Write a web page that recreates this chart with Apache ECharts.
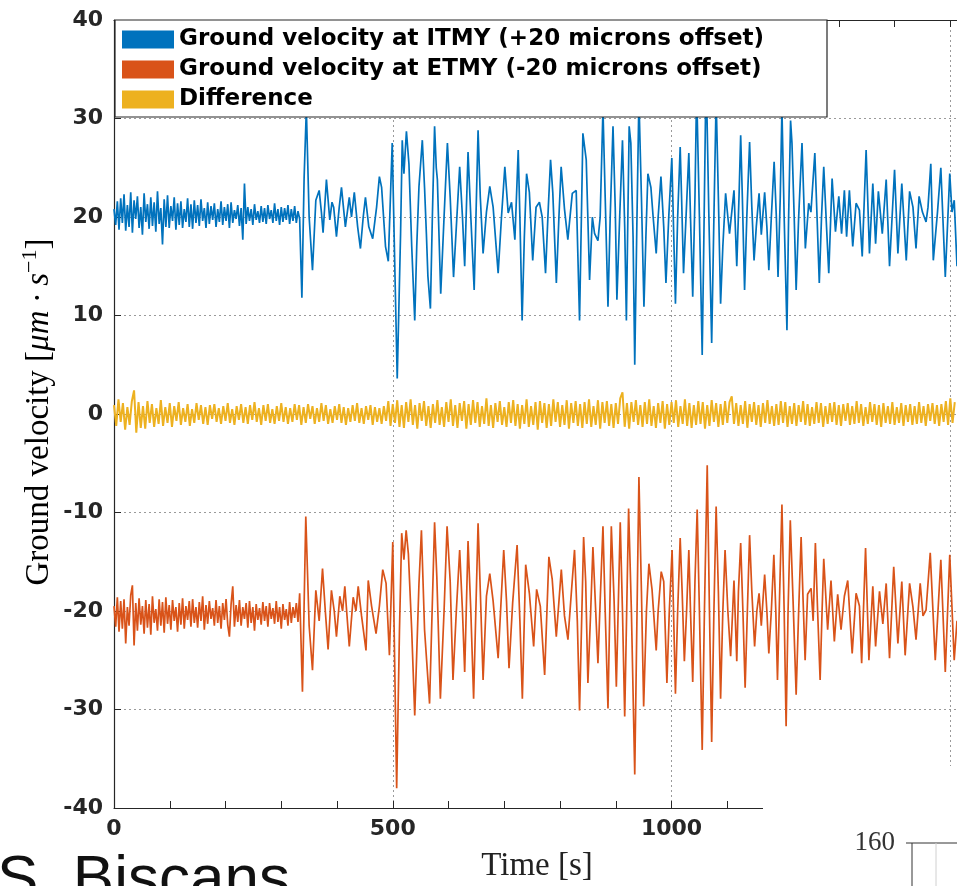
<!DOCTYPE html>
<html>
<head>
<meta charset="utf-8">
<script src="https://cdn.jsdelivr.net/npm/echarts@6/dist/echarts.min.js"></script>
<style>
  html, body { margin: 0; padding: 0; background: #fff; }
  #chart { width: 957px; height: 886px; }
</style>
</head>
<body>
<div id="chart"></div>
<script>
// quiet part before the quake, one sample every 3 s from t = 0
const QUIET_STEP = 3
const itmyQuiet = [
  20.8, 19.2, 21.6, 18.7, 21.9, 19.4, 22.3, 18.6, 21.2, 19.0,
  22.5, 18.4, 21.7, 19.8, 22.1, 18.9, 21.0, 18.2, 22.4, 19.5,
  21.3, 18.8, 22.0, 19.1, 21.5, 18.5, 22.6, 19.3, 20.9, 17.2,
  21.8, 19.0, 22.2, 18.9, 21.1, 19.6, 22.0, 18.7, 21.4, 19.2,
  21.6, 18.9, 20.8, 19.5, 21.9, 19.0, 21.3, 18.8, 21.7, 19.4,
  21.2, 19.1, 21.8, 19.6, 20.9, 18.9, 21.5, 19.3, 21.1, 19.7,
  21.4, 19.0, 20.8, 19.5, 21.6, 19.2, 21.0, 19.6, 21.3, 18.9,
  21.5, 19.4, 20.7, 19.8, 21.2, 19.1, 20.9, 17.7, 23.4, 19.3,
  21.0, 19.6, 20.8, 19.2, 21.3, 19.7, 20.6, 19.4, 21.1, 19.5,
  20.9, 19.3, 21.2, 19.8, 20.7, 19.4, 21.4, 19.6, 20.8, 19.2,
  21.0, 19.5, 20.9, 19.7, 21.2, 19.3, 20.8, 19.6, 21.1, 19.4,
  20.6, 19.8
]
const etmyQuiet = [
  -19.5, -21.6, -18.6, -22.1, -19.0, -21.8, -18.8, -23.3, -19.6, -21.5,
  -18.4, -17.4, -23.5, -19.2, -22.0, -18.7, -21.4, -19.5, -22.3, -18.9,
  -21.7, -19.3, -22.4, -18.5, -21.2, -19.8, -22.0, -18.8, -21.5, -19.1,
  -22.2, -18.6, -21.3, -19.4, -21.9, -18.9, -21.0, -19.6, -22.1, -19.2,
  -21.4, -18.7, -21.8, -19.5, -20.9, -19.0, -21.6, -18.8, -21.2, -19.6,
  -21.7, -19.1, -21.0, -18.5, -21.9, -19.4, -21.3, -19.0, -20.8, -19.7,
  -21.5, -18.9, -21.2, -19.5, -21.8, -19.2, -20.9, -18.8, -21.4, -22.6,
  -19.3, -17.5, -21.6, -19.4, -21.1, -18.9, -21.5, -19.6, -20.8, -19.2,
  -21.7, -19.0, -21.2, -19.6, -22.0, -19.3, -20.9, -19.7, -21.4, -19.1,
  -21.0, -19.5, -21.6, -19.2, -20.8, -19.7, -21.3, -19.0, -21.1, -19.6,
  -21.8, -19.3, -20.9, -19.8, -21.5, -19.1, -21.2, -19.6, -20.7, -19.2,
  -21.1, -18.2
]

// quake part, [time s, velocity] read at the peaks and troughs
const itmyQuake = [
  [337, 11.8], [341, 24], [345, 31], [350, 20], [356, 14.6], [362, 21.7], [368, 22.7], [372, 20.5],
  [375, 18.4], [381, 23.8], [387, 19.7], [391, 21.5], [394, 21], [399, 18], [404, 21], [408, 23],
  [415, 19], [422, 22], [426, 20], [431, 22.5], [437, 19], [442, 16.8], [447, 20], [451, 22],
  [457, 19], [464, 17.8], [471, 21], [476, 24.1], [480, 23], [483, 23.1], [487, 17], [492, 15.5],
  [499, 27.5], [504, 14], [508, 3.6], [514, 18.3], [517, 27.8], [520, 24.4], [524.5, 28.7], [529, 25.4],
  [534, 17], [539.4, 9.5], [543, 17], [547, 23.1], [553, 27.8], [557, 23], [560.3, 18.3], [563, 14],
  [567.5, 10.7], [571, 20], [575, 29.2], [578, 25], [580, 23.8], [586, 12.2], [592, 20], [598, 27.5],
  [603, 22], [609, 13.9], [614, 19], [620, 25.1], [625, 20], [629, 15], [635, 26.6], [640, 20],
  [646, 12.6], [653, 28.8], [657, 22], [662, 16.3], [668, 20.5], [674, 23.1], [680, 21], [689, 14.3],
  [695, 20], [701, 25.1], [707, 20.4], [713, 21.5], [719, 17.7], [725, 26.8], [728, 20], [732, 9.5],
  [736, 18], [740, 24.4], [745, 22.5], [751, 15.6], [757, 21], [763, 21.5], [768, 20.0], [774, 14.3],
  [779, 21], [783, 25.8], [787, 22.5], [793.4, 13.3], [798, 20], [802, 25.1], [808, 20.8], [814, 17.7],
  [822, 22.4], [829, 22.7], [835, 9.5], [841, 28.5], [847, 25.8], [853, 13.6], [858, 20], [862, 18.3],
  [868, 17.6], [872, 20], [877, 31], [881, 22], [886, 10.9], [890, 20], [895, 29.2], [899, 21],
  [902, 11.6], [907, 20], [912, 27.8], [916, 19], [919, 9.5], [924, 29.2], [927, 27.5], [931, 18],
  [934, 5.0], [938, 20], [941.5, 32], [946, 22], [950.5, 10.9], [954, 18], [957.6, 24.4], [963, 23],
  [967, 20], [972.5, 16.3], [976, 20], [981, 24.1], [986, 19], [990, 13.3], [995, 20], [1000.5, 26],
  [1004, 18], [1007, 11.2], [1011, 20], [1015.5, 27.1], [1018, 22], [1021.5, 14.3], [1026, 20], [1031, 26.5],
  [1034, 20], [1038, 11.9], [1042, 22], [1045, 33], [1050, 20], [1055, 6.0], [1058, 18], [1062, 35],
  [1067, 20], [1072, 7.2], [1076, 20], [1080, 32], [1084, 22], [1088, 11.2], [1092, 17], [1097, 22.4],
  [1101, 20], [1104, 18.3], [1108, 20.5], [1112, 22.7], [1117, 15.0], [1121, 22], [1124, 28.3], [1127, 22],
  [1131, 12.6], [1135, 20], [1140, 27.6], [1144, 21], [1148, 15.6], [1152, 19], [1157, 22.4], [1161, 18.2],
  [1167, 22.5], [1171, 19], [1174.5, 14.6], [1179, 20], [1184, 25.6], [1188, 20], [1191, 13.9], [1195, 22],
  [1198, 31], [1202, 20], [1207, 8.5], [1210, 20], [1213.5, 29.8], [1216, 27.5], [1220, 20], [1223.5, 12.6],
  [1228, 20], [1234, 27.5], [1240, 16.8], [1246, 21.4], [1250, 20.5], [1257, 26.5], [1261, 20], [1265, 13.3],
  [1269, 20], [1273, 25.1], [1278, 19], [1282, 14.3], [1288, 23.9], [1294, 18.5], [1300, 22.1], [1305, 18.3],
  [1310, 22.7], [1314, 18], [1319, 22.7], [1325, 17], [1331, 21.4], [1337, 20.7], [1342, 16], [1349, 26.8],
  [1355, 16.3], [1361, 23.4], [1366, 17.3], [1371, 22.6], [1378, 18.3], [1385, 23.8], [1391, 15], [1400, 24.8],
  [1406, 16.3], [1413, 23.4], [1421, 15.6], [1427, 22.6], [1433, 21], [1438.5, 16.8], [1444, 22.1], [1450, 20.5],
  [1456.5, 19.5], [1460, 21], [1465, 25.4], [1469.5, 15.6], [1477, 20.5], [1483, 25], [1491, 13.9], [1499, 24.4],
  [1503, 20.5], [1507, 21.7], [1512, 15]
]
const etmyQuake = [
  [338, -28.2], [344, -10.4], [350, -21.5], [356, -26], [362, -17.9], [368, -21], [374, -15.7], [379, -20],
  [384, -23.9], [390, -17.9], [395, -20], [399, -22.6], [405, -18.5], [410, -20], [414, -17.5], [422, -23.6],
  [429, -18.6], [434, -20], [438, -17.5], [444, -20.5], [452, -24], [456, -16.9], [462, -19.5], [470, -22.3],
  [476, -19.5], [482, -15.8], [488, -17.2], [494, -24.5], [500, -13], [507, -38], [512, -22], [516, -12.1],
  [520, -14.8], [524, -11.8], [528, -14.2], [534, -22], [539.4, -30.6], [547, -17.2], [551.4, -11.8], [557, -21.9],
  [566, -29.4], [575, -11], [579, -16.5], [585.4, -28.9], [592, -20], [597.4, -11.4], [603, -17], [608, -27],
  [614, -20], [620, -13.8], [625, -20], [629, -26.2], [635, -12.9], [640, -20], [645, -28.9], [653, -11.1],
  [657, -18], [662, -27], [668, -18.5], [674, -16.2], [680, -19], [689, -24.8], [699, -13.8], [704, -19],
  [708.5, -25.8], [715, -19.2], [723, -13.3], [728, -21], [732.4, -28.9], [738.4, -15.3], [745, -18.2], [752.7, -23.6],
  [758, -17.8], [764.6, -19.5], [772.4, -26.5], [780, -14.5], [786, -16.8], [793.3, -22.6], [802.3, -15.8], [808, -20.5],
  [814.2, -22.9], [820.2, -18.2], [826, -13.8], [831, -21], [835, -30.1], [842.3, -12.5], [846, -17], [850, -27.3],
  [855, -20], [859, -13.5], [864, -20], [868, -25.3], [872, -19], [877, -11.4], [881, -20], [886, -29.9],
  [892, -11.4], [897, -19], [901, -27.7], [908, -11], [912, -20], [916, -30.7], [923, -9.6], [928, -20],
  [934, -36.6], [941.5, -6.4], [946, -18], [950, -29.7], [955, -20], [959.4, -15.2], [965, -17.8], [972.5, -24],
  [976, -20], [981.5, -16], [986, -17], [991.7, -27.3], [996, -20], [1001, -13.8], [1007, -28.4], [1011, -20],
  [1015.5, -12.6], [1019, -18], [1023, -25.1], [1027, -20], [1031, -13.8], [1034, -20], [1038, -27.2], [1042, -17],
  [1046, -9.7], [1050, -20], [1055, -34.1], [1059, -20], [1064, -5.2], [1068, -20], [1072, -33.3], [1076, -20],
  [1080, -9.4], [1084, -18], [1088, -28.9], [1092, -20], [1096, -13.8], [1101, -20], [1106, -24.6], [1112, -16.9],
  [1117, -25.1], [1120, -18], [1124, -13.1], [1128, -20], [1132, -27.8], [1136, -20], [1140, -12.3], [1144, -18],
  [1149, -23.6], [1153, -20], [1157, -18.2], [1161, -21.5], [1167, -16.3], [1171, -20], [1174.5, -24.3], [1179, -20],
  [1183.5, -14.3], [1187, -20], [1190, -27], [1194, -18], [1198, -9.2], [1202, -20], [1205.5, -31.7], [1209, -20],
  [1213, -10.8], [1218, -19], [1223.5, -28.5], [1228, -20], [1232.4, -12.5], [1236, -19], [1239.6, -25], [1244, -18.3],
  [1250.3, -17.7], [1254, -21], [1258, -13.1], [1262, -20], [1266.5, -27], [1270, -20], [1273, -14.7], [1280, -21.9],
  [1286, -16.9], [1292, -23.1], [1298, -18.3], [1304, -21.9], [1310, -18.5], [1316, -16.9], [1324, -24.3], [1331, -18.2],
  [1337, -19.5], [1341, -25.3], [1348, -13.6], [1354, -25], [1361, -17.5], [1366, -23.6], [1373, -18], [1379, -21.3],
  [1385, -17.2], [1391, -24.8], [1398.5, -15.5], [1406, -23.3], [1413, -17], [1419, -24.5], [1427, -17.2], [1433, -19.6],
  [1438.5, -22.9], [1446, -17.2], [1451, -20.5], [1456.5, -19.9], [1464, -14.1], [1473, -25], [1483, -14.8], [1491, -26.2],
  [1499, -14.3], [1507, -25], [1512, -21]
]

// difference trace, one sample every 4 s from t = 0
const DIFF_STEP = 4
const diffValues = [
  0.9, -1.2, 1.5, -0.8, 1.1, -1.6, 0.7, -1.1, 1.3, 2.4,
  -1.9, 1.2, -1.4, 0.8, -1.5, 1.3, -0.9, 1.0, -1.3, 0.6,
  -1.0, 1.4, -1.2, 0.7, -0.9, 1.1, -1.3, 0.8, -0.7, 1.2,
  -1.1, 0.6, -0.8, 1.0, -1.2, 0.5, -0.9, 1.1, -0.6, 0.9,
  -1.0, 0.7, -1.1, 0.9, -0.5, 1.0, -0.8, 0.6, -1.0, 0.8,
  -0.7, 1.1, -0.9, 0.5, -1.1, 0.8, -0.6, 1.0, -0.9, 0.7,
  -1.0, 0.9, -0.6, 1.2, -0.8, 0.6, -1.1, 0.9, -0.7, 1.0,
  -0.9, 0.5, -1.0, 0.8, -0.7, 1.1, -0.8, 0.7, -1.0, 0.6,
  -0.8, 1.0, -0.6, 0.9, -1.1, 0.7, -0.9, 1.0, -0.5, 0.8,
  -1.0, 0.6, -0.8, 1.1, -0.7, 0.9, -1.0, 0.5, -0.9, 0.8,
  -0.6, 1.0, -0.9, 0.7, -1.1, 0.6, -0.8, 0.9, -0.7, 1.1,
  -0.9, 0.6, -1.0, 0.8, -0.6, 0.9, -1.1, 0.7, -0.8, 0.6,
  -1.0, 0.8, -0.7, 1.3, -1.2, 1.0, -0.9, 1.4, -1.3, 0.9,
  -1.4, 1.2, -0.8, 1.5, -1.1, 0.9, -1.5, 1.1, -0.7, 1.3,
  -1.2, 0.8, -1.4, 1.0, -0.9, 1.4, -1.1, 0.7, -1.3, 1.2,
  -0.8, 1.5, -1.2, 0.9, -1.4, 1.1, -0.7, 1.3, -1.5, 1.0,
  -1.1, 1.4, -0.9, 1.2, -1.3, 0.8, -1.0, 1.6, -1.2, 0.9,
  -1.4, 1.1, -0.8, 1.3, -1.1, 0.7, -1.3, 1.2, -0.9, 1.4,
  -1.2, 1.0, -1.5, 0.9, -1.0, 1.5, -1.3, 0.8, -1.1, 1.2,
  -1.6, 1.3, -0.9, 1.1, -1.4, 1.0, -1.2, 1.5, -0.8, 1.2,
  -1.3, 0.9, -1.1, 1.4, -1.5, 1.1, -0.9, 1.3, -1.2, 1.0,
  -1.4, 1.2, -1.0, 1.5, -1.3, 0.8, -1.1, 1.4, -1.5, 1.2,
  -0.9, 1.3, -1.2, 1.0, -1.4, 1.1, -1.0, 1.6, 2.2, -1.3,
  1.1, -1.5, 1.2, -0.8, 1.4, -1.1, 0.9, -1.3, 1.2, -1.0,
  1.5, -1.2, 0.8, -1.4, 1.1, -0.9, 1.3, -1.5, 1.0, -1.1,
  1.2, -0.9, 1.4, -1.3, 0.8, -1.0, 1.5, -1.2, 1.1, -1.4,
  0.9, -1.1, 1.3, -1.0, 1.2, -1.5, 0.9, -1.2, 1.4, -0.8,
  1.1, -1.3, 1.0, -1.1, 1.3, -0.9, 1.2, 1.8, -1.0, 1.1,
  -1.2, 0.9, -1.0, 1.3, -1.4, 1.0, -0.8, 1.2, -1.1, 0.9,
  -1.3, 1.1, -0.9, 1.4, -1.0, 0.8, -1.2, 1.0, -1.1, 1.3,
  -0.9, 1.2, -1.3, 0.8, -1.0, 1.1, -1.2, 0.9, -0.8, 1.3,
  -1.1, 1.0, -1.2, 0.7, -1.0, 1.2, -0.9, 1.1, -1.3, 0.8,
  -1.0, 1.1, -0.8, 1.2, -1.1, 0.9, -1.2, 1.0, -0.7, 1.1,
  -1.1, 0.8, -1.0, 1.3, -0.9, 1.0, -1.2, 0.7, -1.0, 1.2,
  -0.8, 1.0, -1.1, 0.9, -1.3, 1.1, -0.9, 0.8, -1.0, 1.2,
  -1.1, 0.7, -0.9, 1.1, -1.2, 0.9, -0.8, 1.0, -1.1, 0.8,
  -1.0, 1.2, -0.9, 0.8, -1.2, 1.0, -0.7, 1.1, -1.0, 0.9,
  -1.2, 1.0, -0.8, 1.3, -1.1, 1.6, -0.9, 1.2
]

const seriesNames = [
  'Ground velocity at ITMY (+20 microns offset)',
  'Ground velocity at ETMY (-20 microns offset)',
  'Difference'
]
// 1500 sits under the neighbouring panel, so only these labels show
const xLabels = [0, 500, 1000]
const yTicks = [-40, -30, -20, -10, 0, 10, 20, 30, 40]
// the visible part of the time axis ends at the right edge of the picture
const X_MAX = 1512

const itmyData = itmyQuiet.map((v, i) => [i * QUIET_STEP, v]).concat(itmyQuake)
const etmyData = etmyQuiet.map((v, i) => [i * QUIET_STEP, v]).concat(etmyQuake)
const diffData = diffValues.map((v, i) => [i * DIFF_STEP, v])

const axisColor = '#262626'
const gridLine = { show: true, lineStyle: { color: '#9a9a9a', type: [2, 3], width: 1 } }
const serif = 'Liberation Serif'

const chart = echarts.init(document.getElementById('chart'))

const line = (name, data, color, width) => ({
  name,
  type: 'line',
  data,
  xAxisIndex: 0,
  showSymbol: false,
  symbol: 'none',
  sampling: 'none',
  lineStyle: { color, width },
  itemStyle: { color },
  emphasis: { disabled: true }
})

chart.setOption({
  animation: false,
  grid: { left: 114, top: 20, right: 0, height: 788, outerBoundsMode: 'none', containLabel: false },
  legend: {
    orient: 'vertical',
    left: 115,
    top: 20,
    z: 20,
    padding: [8, 10, 8, 7],
    itemWidth: 52,
    itemHeight: 18,
    itemGap: 7,
    icon: 'rect',
    data: seriesNames,
    textStyle: { fontFamily: 'DejaVu Sans', fontWeight: 'bold', fontSize: 23, color: '#000' }
  },
  xAxis: [
    {
      type: 'value', min: 0, max: X_MAX, interval: 100, position: 'bottom',
      axisLine: { show: true, onZero: false, lineStyle: { color: axisColor, width: 1.2 } },
      axisTick: { show: true, inside: true, length: 7, lineStyle: { color: axisColor } },
      axisLabel: {
        margin: 10,
        showMaxLabel: false,
        formatter: v => (xLabels.includes(v) ? String(v) : ''),
        fontFamily: 'DejaVu Sans', fontWeight: 'bold', fontSize: 22, color: axisColor
      },
      splitLine: { show: false }
    },
    {
      type: 'value', min: 0, max: X_MAX, interval: 100, position: 'top',
      axisLine: { show: true, onZero: false, lineStyle: { color: axisColor, width: 1.2 } },
      axisTick: { show: true, inside: true, length: 7, lineStyle: { color: axisColor } },
      axisLabel: { show: false },
      splitLine: { show: false }
    },
    {
      type: 'value', min: 0, max: X_MAX, interval: 500, position: 'bottom',
      axisLine: { show: false },
      axisTick: { show: false },
      axisLabel: { show: false },
      splitLine: gridLine
    }
  ],
  yAxis: {
    type: 'value', min: yTicks[0], max: yTicks[yTicks.length - 1], interval: 10,
    axisLine: { show: true, onZero: false, lineStyle: { color: axisColor, width: 1.2 } },
    axisTick: { show: true, inside: true, length: 7, lineStyle: { color: axisColor } },
    axisLabel: { margin: 11, fontFamily: 'DejaVu Sans', fontWeight: 'bold', fontSize: 22, color: axisColor },
    splitLine: gridLine
  },
  graphic: [
    // legend box
    {
      type: 'rect', z: 15, shape: { x: 115, y: 20, width: 712, height: 97 },
      style: { fill: '#fff', stroke: axisColor, lineWidth: 1.2 }
    },
    // y axis title
    {
      type: 'text', z: 15, x: 36, y: 412, rotation: Math.PI / 2,
      style: {
        text: '{n|Ground velocity [}{i|μm · s}{s|−1}{n|]}',
        align: 'center', verticalAlign: 'middle',
        rich: {
          n: { fontFamily: serif, fontSize: 33, color: '#222', lineHeight: 40, verticalAlign: 'bottom' },
          i: { fontFamily: serif, fontStyle: 'italic', fontSize: 33, color: '#222', lineHeight: 40, verticalAlign: 'bottom' },
          s: { fontFamily: serif, fontSize: 22, color: '#222', lineHeight: 40, verticalAlign: 'bottom', padding: [0, 0, 15, 0] }
        }
      }
    },
    // x axis title
    {
      type: 'text', z: 15, x: 537, y: 866,
      style: { text: 'Time [s]', fontFamily: serif, fontSize: 33, fill: '#222', align: 'center', verticalAlign: 'middle' }
    },
    // neighbouring panel that overlaps the lower right corner
    {
      type: 'rect', z: 15, shape: { x: 763, y: 766, width: 200, height: 130 },
      style: { fill: '#fff' }
    },
    {
      type: 'text', z: 16, x: 895, y: 843,
      style: { text: '160', fontFamily: serif, fontSize: 27, fill: '#333', align: 'right', verticalAlign: 'middle' }
    },
    { type: 'line', z: 16, shape: { x1: 906, y1: 843, x2: 957, y2: 843 }, style: { stroke: '#333', lineWidth: 1 } },
    { type: 'line', z: 16, shape: { x1: 912, y1: 843, x2: 912, y2: 886 }, style: { stroke: '#333', lineWidth: 1 } },
    { type: 'line', z: 16, shape: { x1: 936, y1: 843, x2: 936, y2: 886 }, style: { stroke: '#d0d0d0', lineWidth: 1 } },
    // slide caption, cut by the bottom edge
    {
      type: 'text', z: 16, x: -3, y: 881,
      style: { text: 'S. Biscans', fontFamily: 'Liberation Sans', fontSize: 62, fill: '#111', align: 'left', verticalAlign: 'middle' }
    }
  ],
  series: [
    line(seriesNames[0], itmyData, '#0072BD', 1.7),
    line(seriesNames[1], etmyData, '#D95319', 1.7),
    line(seriesNames[2], diffData, '#EDB120', 2)
  ]
})
</script>
</body>
</html>
